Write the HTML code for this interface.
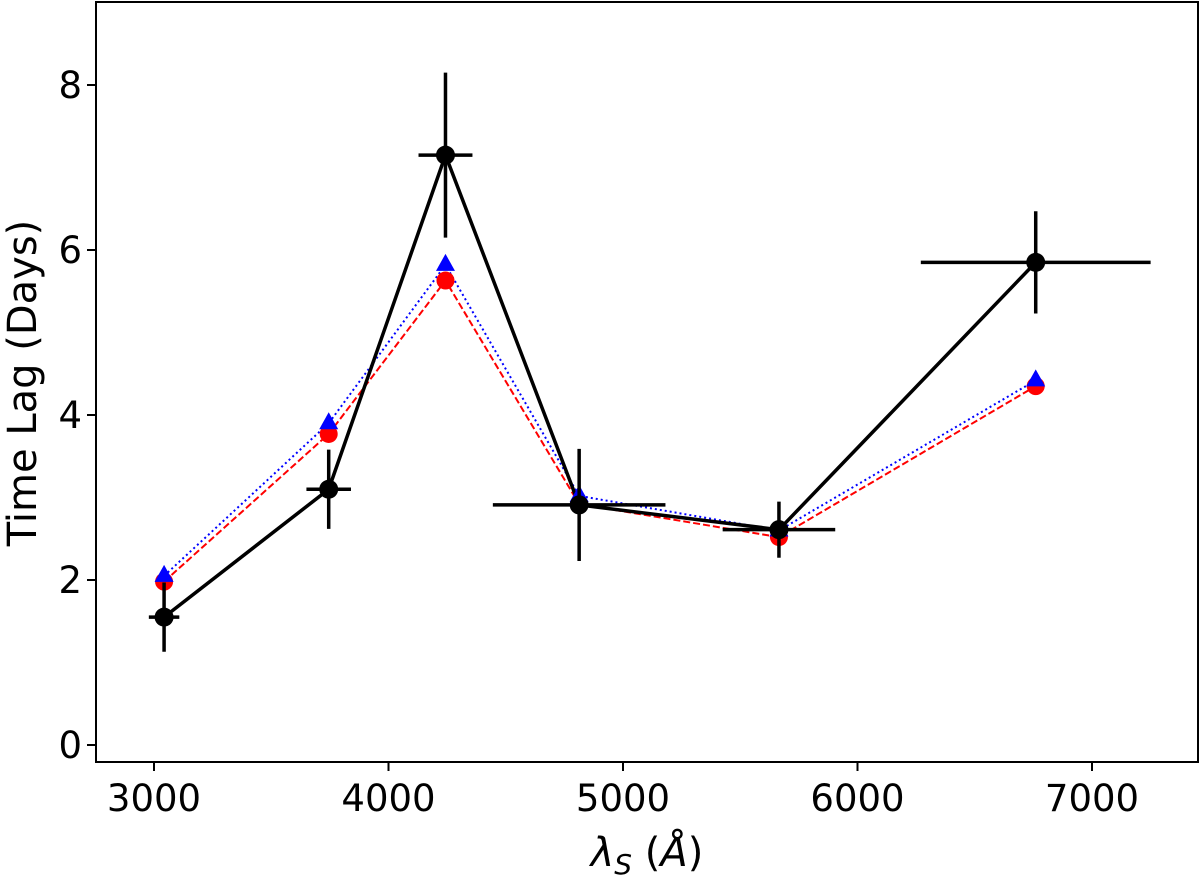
<!DOCTYPE html>
<html><head><meta charset="utf-8"><style>
html,body{margin:0;padding:0;background:#fff;}
svg text{font-family:"DejaVu Sans","Liberation Sans",sans-serif;fill:#000;}
</style></head><body>
<svg id="chart" width="1200" height="876" xmlns="http://www.w3.org/2000/svg">
<g id="grid"></g>
<g id="marks"></g>
</svg>
<script>
const xTicks=[3000,4000,5000,6000,7000];
const yTicks=[0,2,4,6,8];
const obsX=[3043,3745,4243,4813,5665,6760];
const obsY=[1.55,3.10,7.15,2.91,2.61,5.85];
const obsXerr=[65,95,115,368,240,490];
const obsYerr=[0.42,0.48,1.0,0.68,0.34,0.62];
const redY=[1.98,3.77,5.63,2.92,2.52,4.35];
const blueY=[2.05,3.90,5.82,3.02,2.60,4.42];

const L=96,R=1198,T=2,B=762;
const sx=v=>154+(v-3000)*0.2345;
const sy=v=>745-v*82.5;
const NS='http://www.w3.org/2000/svg';
function mk(tag,attrs,parent){const e=document.createElementNS(NS,tag);for(const k in attrs)e.setAttribute(k,attrs[k]);parent.appendChild(e);return e;}
const g=document.getElementById('grid'), m=document.getElementById('marks');

const frame=mk('rect',{x:L,y:T,width:R-L,height:B-T,fill:'none',stroke:'#000','stroke-width':2},g);


xTicks.forEach(t=>{
  const l=mk('line',{x1:sx(t),x2:sx(t),y1:B,y2:B+9,stroke:'#000','stroke-width':2},g);
  
  
  const tx=mk('text',{x:sx(t),y:B+49,'font-size':37,'text-anchor':'middle'},g);
  tx.textContent=t;
  
  
});
yTicks.forEach(t=>{
  const l=mk('line',{x1:L-9,x2:L,y1:sy(t),y2:sy(t),stroke:'#000','stroke-width':2},g);
  
  
  const tx=mk('text',{x:L-14,y:sy(t)+13,'font-size':37,'text-anchor':'end'},g);
  tx.textContent=t;
  
  
});
const xl=mk('text',{x:647,y:866,'font-size':40,'text-anchor':'middle'},g);
xl.innerHTML='<tspan font-style="italic">λ</tspan><tspan font-style="italic" font-size="28" dy="8">S</tspan><tspan dy="-8"> (</tspan><tspan font-style="italic">Å</tspan>)';


const yl=mk('text',{x:0,y:0,'font-size':40,'text-anchor':'middle',transform:'translate(36,383) rotate(-90)'},g);
yl.textContent='Time Lag (Days)';



function pts(ys){return obsX.map((x,i)=>sx(x)+','+sy(ys[i])).join(' ');}
const rl=mk('polyline',{points:pts(redY),fill:'none',stroke:'#ff0000','stroke-width':2,'stroke-dasharray':'7,3'},m);


const bl=mk('polyline',{points:pts(blueY),fill:'none',stroke:'#0000ff','stroke-width':2,'stroke-dasharray':'2,3'},m);


const kl=mk('polyline',{points:pts(obsY),fill:'none',stroke:'#000','stroke-width':3.5},m);


redY.forEach((v,i)=>{
  const c=mk('circle',{cx:sx(obsX[i]),cy:sy(v),r:9,fill:'#ff0000'},m);
  
  
});
blueY.forEach((v,i)=>{
  const x=sx(obsX[i]),y=sy(v);
  const p=mk('polygon',{points:`${x},${y-11} ${x-9.5},${y+6} ${x+9.5},${y+6}`,fill:'#0000ff'},m);
  
  
});
obsY.forEach((v,i)=>{
  const x=obsX[i];
  const h=mk('line',{x1:sx(x-obsXerr[i]),x2:sx(x+obsXerr[i]),y1:sy(v),y2:sy(v),stroke:'#000','stroke-width':3.5},m);
  
  
  const ve=mk('line',{x1:sx(x),x2:sx(x),y1:sy(v-obsYerr[i]),y2:sy(v+obsYerr[i]),stroke:'#000','stroke-width':3.5},m);
  
  
  const c=mk('circle',{cx:sx(x),cy:sy(v),r:9.5,fill:'#000'},m);
  
  
});
</script>
</body></html>
